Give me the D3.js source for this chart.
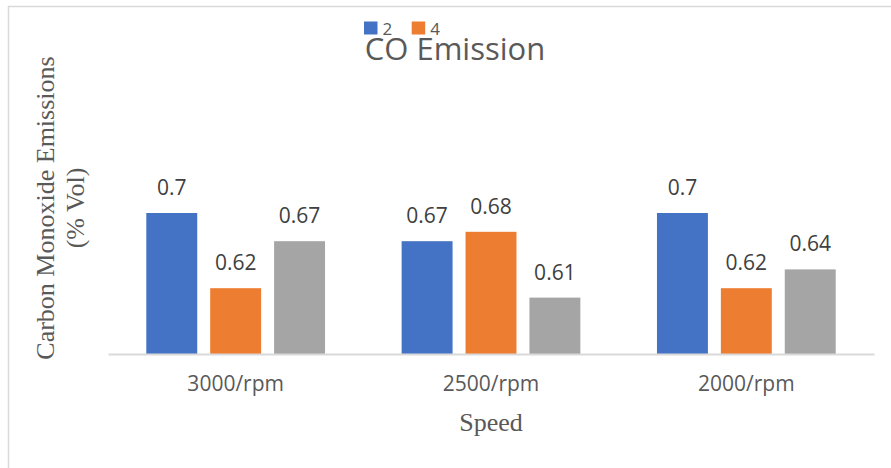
<!DOCTYPE html>
<html>
<head>
<meta charset="utf-8">
<script src="https://cdn.jsdelivr.net/npm/d3@7"></script>
<style>
  html, body { margin: 0; padding: 0; background: #fff; }
  svg { display: block; }
</style>
</head>
<body>
<svg id="chart" width="891" height="468"></svg>
<script>
// Speeds on the category axis
const categories = ["3000/rpm", "2500/rpm", "2000/rpm"];

// CO emissions (% Vol), one array per series
const seriesA = [0.7, 0.67, 0.7];
const seriesB = [0.62, 0.68, 0.62];
const seriesC = [0.67, 0.61, 0.64];

const seriesKeys = ["a", "b", "c"];
const seriesValues = [seriesA, seriesB, seriesC];
const seriesColors = ["#4472C4", "#ED7D31", "#A5A5A5"];

// Legend entries shown above the title
const legendLabels = ["2", "4"];

const svg = d3.select("#chart");

// Outer chart frame
svg.append("rect")
  .attr("x", 8.5).attr("y", 6.5)
  .attr("width", 900).attr("height", 480)
  .attr("fill", "#fff")
  .attr("stroke", "#D9D9D9")
  .attr("stroke-width", 1.5);

const x0 = d3.scaleBand()
  .domain(categories)
  .range([108, 874])
  .paddingInner(0.3)
  .paddingOuter(0.15);

const x1 = d3.scaleBand()
  .domain(seriesKeys)
  .range([0, x0.bandwidth()])
  .paddingInner(0.203)
  .paddingOuter(0);

const y = d3.scaleLinear()
  .domain([0.55, 0.75])
  .range([354, 166]);

// Bars
const groups = svg.append("g")
  .selectAll("g")
  .data(categories)
  .join("g")
  .attr("transform", d => `translate(${x0(d)},0)`);

groups.selectAll("rect")
  .data((d, i) => seriesKeys.map((k, s) => ({ key: k, value: seriesValues[s][i], color: seriesColors[s] })))
  .join("rect")
  .attr("x", d => x1(d.key))
  .attr("y", d => y(d.value))
  .attr("width", x1.bandwidth())
  .attr("height", d => y(0.55) - y(d.value))
  .attr("fill", d => d.color);

// Value labels
groups.selectAll("text")
  .data((d, i) => seriesKeys.map((k, s) => ({ key: k, value: seriesValues[s][i] })))
  .join("text")
  .attr("x", d => x1(d.key) + x1.bandwidth() / 2)
  .attr("y", d => y(d.value) - 18)
  .attr("text-anchor", "middle")
  .attr("font-family", "'Open Sans', sans-serif")
  .attr("font-size", 21)
  .attr("fill", "#404040")
  .text(d => String(d.value));

// Category axis
const xAxis = svg.append("g")
  .attr("transform", `translate(0,${y(0.55)})`)
  .call(d3.axisBottom(x0).tickSize(0).tickSizeOuter(0).tickPadding(22));

xAxis.select(".domain")
  .attr("stroke", "#D9D9D9")
  .attr("stroke-width", 2);

xAxis.selectAll(".tick text")
  .attr("font-family", "'Open Sans', sans-serif")
  .attr("font-size", 21)
  .attr("fill", "#595959");

// Title
svg.append("text")
  .attr("x", 455)
  .attr("y", 60)
  .attr("text-anchor", "middle")
  .attr("font-family", "'Open Sans', sans-serif")
  .attr("font-size", 31)
  .attr("fill", "#595959")
  .text("CO Emission");

// Axis titles
svg.append("text")
  .attr("x", 491)
  .attr("y", 431)
  .attr("text-anchor", "middle")
  .attr("font-family", "'Liberation Serif', 'Times New Roman', serif")
  .attr("font-size", 26)
  .attr("fill", "#595959")
  .text("Speed");

const yTitle = svg.append("text")
  .attr("transform", "translate(54,208) rotate(-90)")
  .attr("text-anchor", "middle")
  .attr("font-family", "'Liberation Serif', 'Times New Roman', serif")
  .attr("font-size", 26)
  .attr("fill", "#595959");
yTitle.append("tspan").attr("x", 0).attr("y", 0).text("Carbon Monoxide Emissions");
yTitle.append("tspan").attr("x", 0).attr("y", 30).text("(% Vol)");

// Legend
const legend = svg.append("g")
  .selectAll("g")
  .data(legendLabels)
  .join("g")
  .attr("transform", (d, i) => `translate(${364 + i * 47.7},0)`);

legend.append("rect")
  .attr("x", 0).attr("y", 21.5)
  .attr("width", 13.5).attr("height", 13)
  .attr("fill", (d, i) => seriesColors[i]);

legend.append("text")
  .attr("x", 18.5)
  .attr("y", 35)
  .attr("font-family", "'Open Sans', sans-serif")
  .attr("font-size", 17)
  .attr("fill", "#595959")
  .text(d => d);
</script>
</body>
</html>
